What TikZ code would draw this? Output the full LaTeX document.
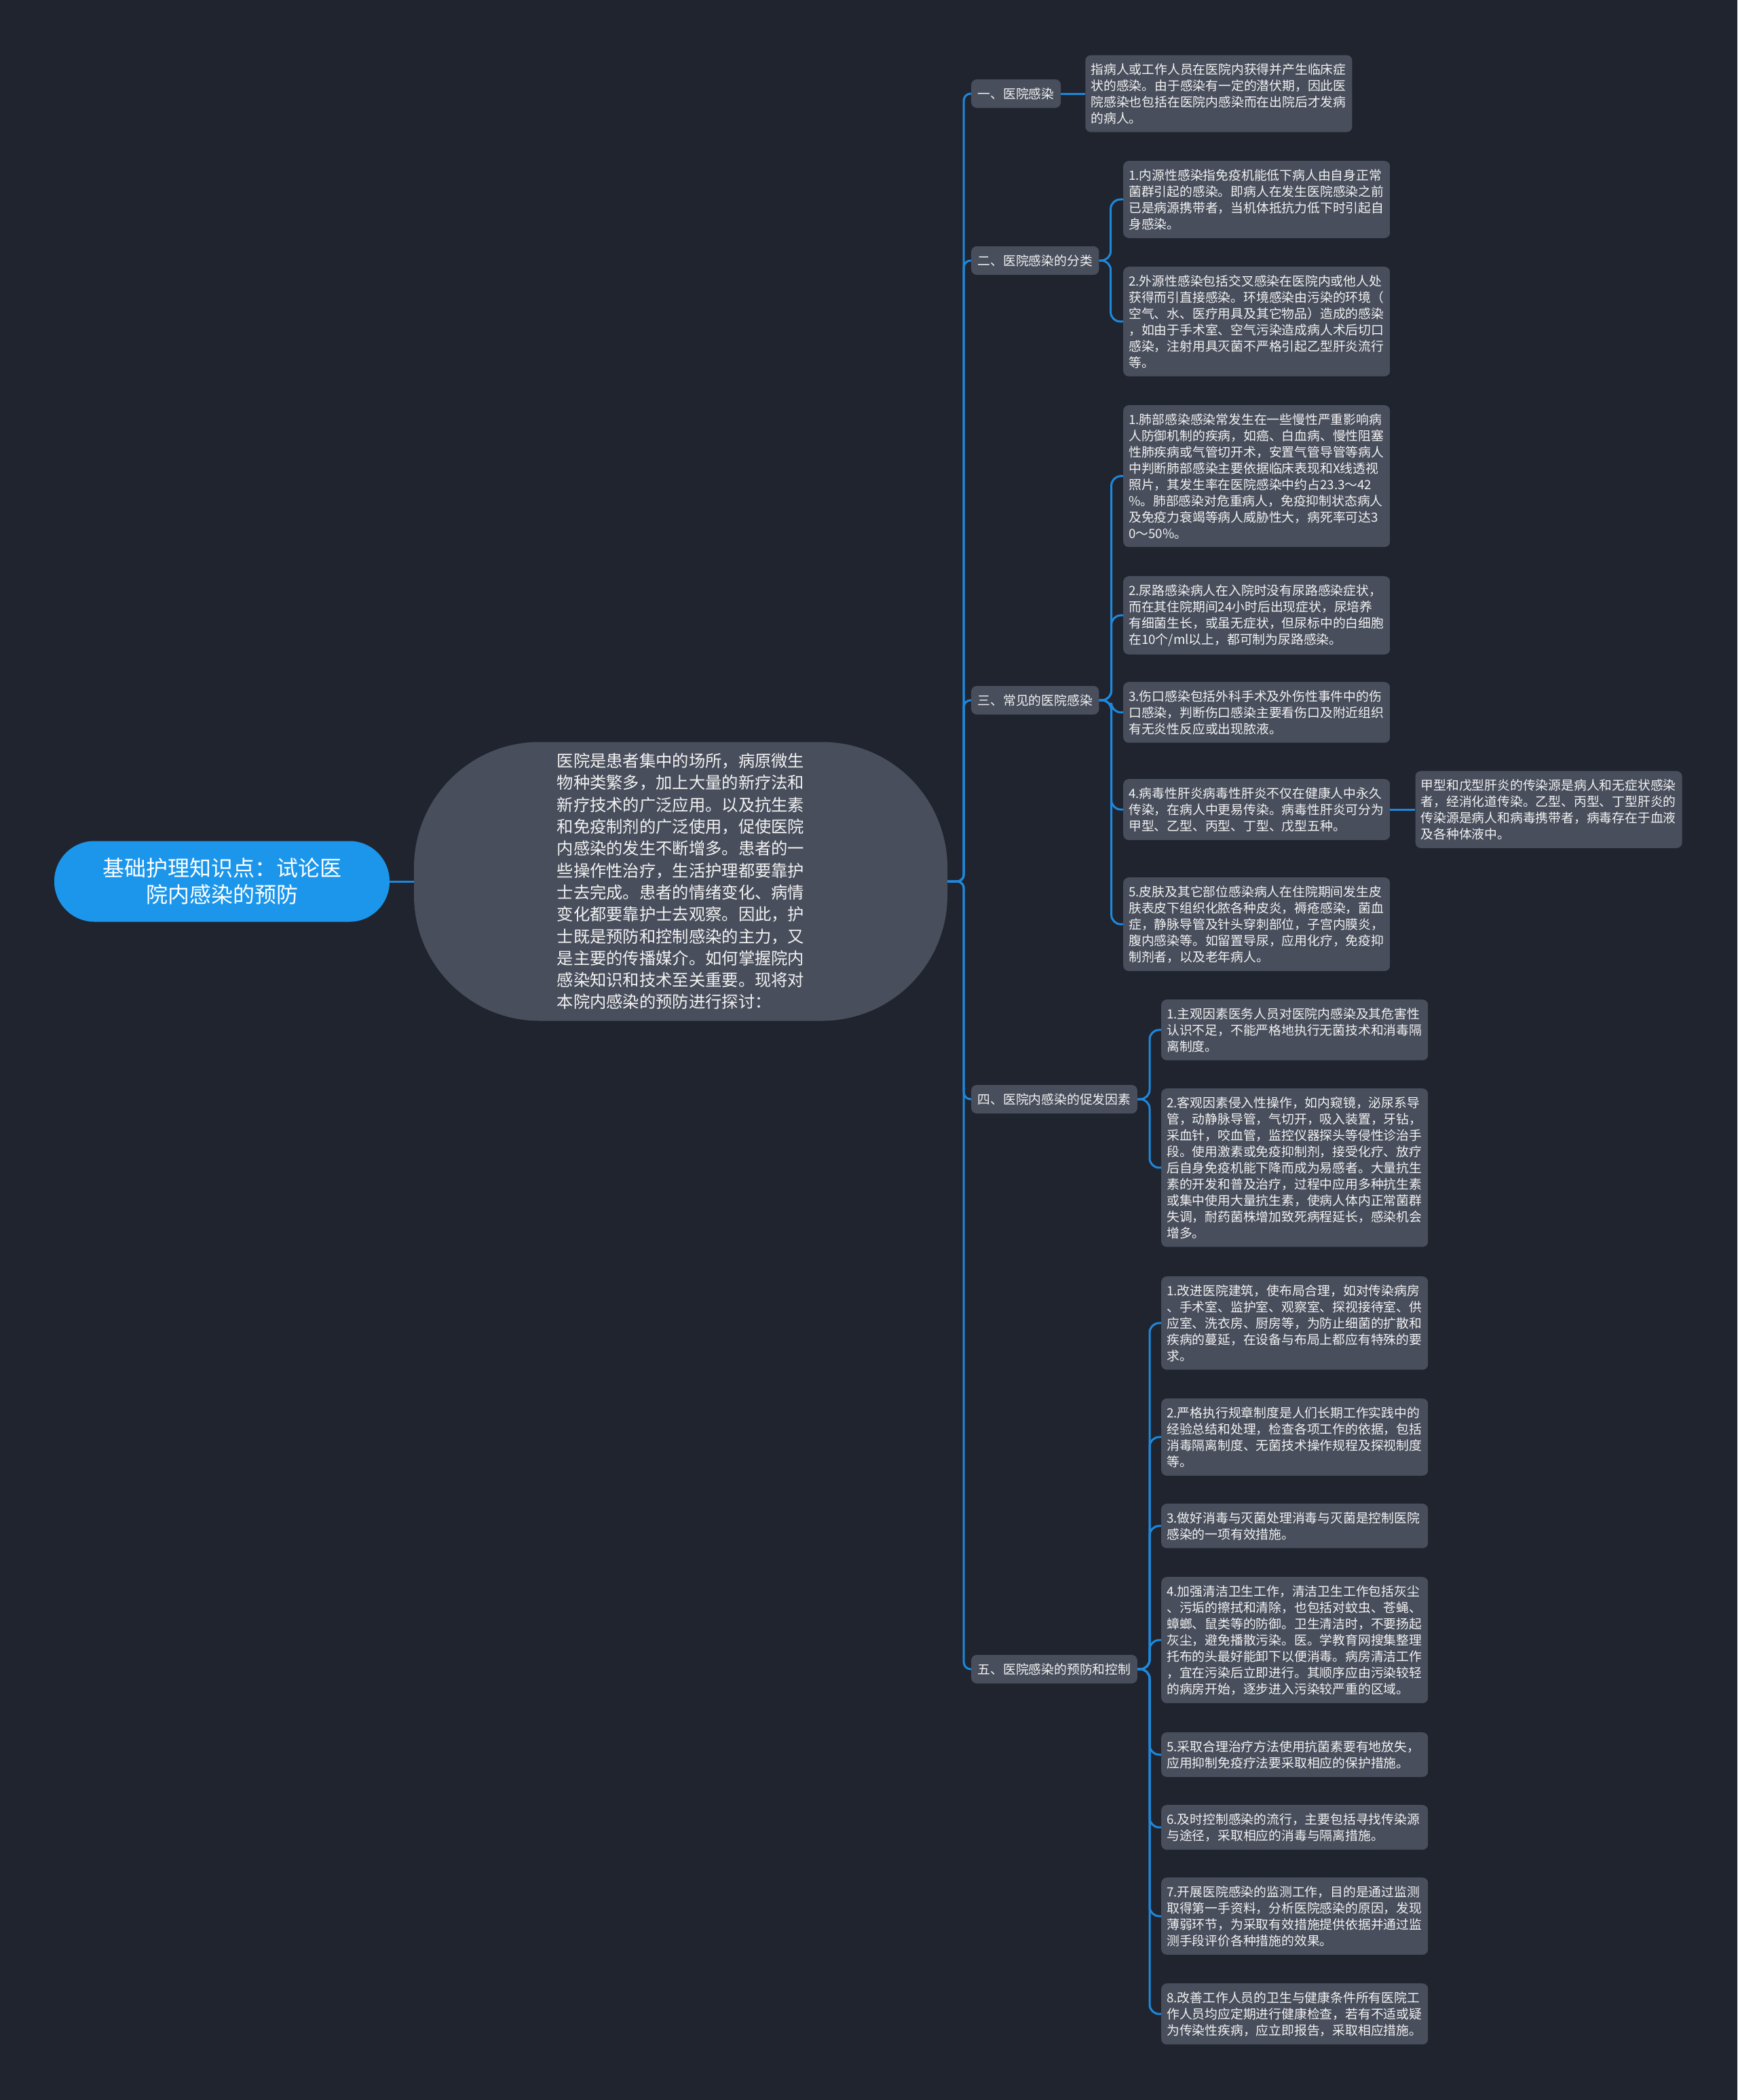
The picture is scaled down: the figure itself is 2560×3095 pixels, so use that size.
\documentclass[tikz,border=0pt]{standalone}
\usepackage{fontspec}
\setmainfont{Noto Sans CJK SC}
\usetikzlibrary{positioning}
\definecolor{bgnavy}{HTML}{20242F}
\definecolor{boxgray}{HTML}{484E5C}
\definecolor{rootblue}{HTML}{1C96EB}
\definecolor{linkblue}{HTML}{1E88DC}
\definecolor{textwhite}{HTML}{F2F2F2}

\begin{document}
\begin{tikzpicture}[
  x=1pt, y=-1pt,
  node distance=36pt,
  rootnode/.style={fill=rootblue, text=white, rounded corners=59pt, minimum width=494pt, minimum height=119pt, align=center, font=\fontsize{32pt}{39pt}\selectfont},
  introbox/.style={fill=boxgray, text=textwhite, rounded corners=185pt, minimum width=786pt, minimum height=411pt, align=left, font=\fontsize{24.3pt}{32.3pt}\selectfont},
  catnode/.style={fill=boxgray, text=textwhite, rounded corners=8pt, anchor=west, inner xsep=9.5pt, minimum height=42pt, font=\fontsize{18.8pt}{24pt}\selectfont},
  infobox/.style={fill=boxgray, text=textwhite, rounded corners=8pt, anchor=north west, text width=377pt, inner xsep=8pt, inner ysep=12pt, align=left, font=\fontsize{18.8pt}{24pt}\selectfont},
  link/.style={draw=linkblue, line width=3pt, rounded corners=14pt}
]
\path[use as bounding box, fill=bgnavy] (0,0) rectangle (2560,3095);

\node[rootnode] (root) at (327,1299) {基础护理知识点：试论医\\院内感染的预防};
\node[introbox] (intro) at (1003,1299) {医院是患者集中的场所，病原微生\\物种类繁多，加上大量的新疗法和\\新疗技术的广泛应用。以及抗生素\\和免疫制剂的广泛使用，促使医院\\内感染的发生不断增多。患者的一\\些操作性治疗，生活护理都要靠护\\士去完成。患者的情绪变化、病情\\变化都要靠护士去观察。因此，护\\士既是预防和控制感染的主力，又\\是主要的传播媒介。如何掌握院内\\感染知识和技术至关重要。现将对\\本院内感染的预防进行探讨：};

\node[catnode] (define) at (1431,138) {一、医院感染};
\node[catnode] (classify) at (1431,384) {二、医院感染的分类};
\node[catnode] (common) at (1431,1032) {三、常见的医院感染};
\node[catnode] (factors) at (1431,1620) {四、医院内感染的促发因素};
\node[catnode] (prevent) at (1431,2460) {五、医院感染的预防和控制};

\node[infobox, anchor=west, right=36pt of define] (defdetail) {指病人或工作人员在医院内获得并产生临床症\\状的感染。由于感染有一定的潜伏期，因此医\\院感染也包括在医院内感染而在出院后才发病\\的病人。};

\node[infobox] (classify1) at (1655,237) {1.内源性感染指免疫机能低下病人由自身正常\\菌群引起的感染。即病人在发生医院感染之前\\已是病源携带者，当机体抵抗力低下时引起自\\身感染。};
\node[infobox] (classify2) at (1655,393) {2.外源性感染包括交叉感染在医院内或他人处\\获得而引直接感染。环境感染由污染的环境（\\空气、水、医疗用具及其它物品）造成的感染\\，如由于手术室、空气污染造成病人术后切口\\感染，注射用具灭菌不严格引起乙型肝炎流行\\等。};

\node[infobox] (common1) at (1655,597) {1.肺部感染感染常发生在一些慢性严重影响病\\人防御机制的疾病，如癌、白血病、慢性阻塞\\性肺疾病或气管切开术，安置气管导管等病人\\中判断肺部感染主要依据临床表现和X线透视\\照片，其发生率在医院感染中约占23.3～42\\\%。肺部感染对危重病人，免疫抑制状态病人\\及免疫力衰竭等病人威胁性大，病死率可达3\\0～50\%。};
\node[infobox] (common2) at (1655,849) {2.尿路感染病人在入院时没有尿路感染症状，\\而在其住院期间24小时后出现症状，尿培养\\有细菌生长，或虽无症状，但尿标中的白细胞\\在10个/ml以上，都可制为尿路感染。};
\node[infobox] (common3) at (1655,1005) {3.伤口感染包括外科手术及外伤性事件中的伤\\口感染，判断伤口感染主要看伤口及附近组织\\有无炎性反应或出现脓液。};
\node[infobox] (common4) at (1655,1148) {4.病毒性肝炎病毒性肝炎不仅在健康人中永久\\传染，在病人中更易传染。病毒性肝炎可分为\\甲型、乙型、丙型、丁型、戊型五种。};
\node[infobox] (common5) at (1655,1293) {5.皮肤及其它部位感染病人在住院期间发生皮\\肤表皮下组织化脓各种皮炎，褥疮感染，菌血\\症，静脉导管及针头穿刺部位，子宫内膜炎，\\腹内感染等。如留置导尿，应用化疗，免疫抑\\制剂者，以及老年病人。};
\node[infobox, anchor=west, right=37pt of common4] (hepat) {甲型和戊型肝炎的传染源是病人和无症状感染\\者，经消化道传染。乙型、丙型、丁型肝炎的\\传染源是病人和病毒携带者，病毒存在于血液\\及各种体液中。};

\node[infobox] (factor1) at (1711,1473) {1.主观因素医务人员对医院内感染及其危害性\\认识不足，不能严格地执行无菌技术和消毒隔\\离制度。};
\node[infobox] (factor2) at (1711,1604) {2.客观因素侵入性操作，如内窥镜，泌尿系导\\管，动静脉导管，气切开，吸入装置，牙钻，\\采血针，咬血管，监控仪器探头等侵性诊治手\\段。使用激素或免疫抑制剂，接受化疗、放疗\\后自身免疫机能下降而成为易感者。大量抗生\\素的开发和普及治疗，过程中应用多种抗生素\\或集中使用大量抗生素，使病人体内正常菌群\\失调，耐药菌株增加致死病程延长，感染机会\\增多。};

\node[infobox] (prevent1) at (1711,1881) {1.改进医院建筑，使布局合理，如对传染病房\\、手术室、监护室、观察室、探视接待室、供\\应室、洗衣房、厨房等，为防止细菌的扩散和\\疾病的蔓延，在设备与布局上都应有特殊的要\\求。};
\node[infobox] (prevent2) at (1711,2061) {2.严格执行规章制度是人们长期工作实践中的\\经验总结和处理，检查各项工作的依据，包括\\消毒隔离制度、无菌技术操作规程及探视制度\\等。};
\node[infobox] (prevent3) at (1711,2216) {3.做好消毒与灭菌处理消毒与灭菌是控制医院\\感染的一项有效措施。};
\node[infobox] (prevent4) at (1711,2324) {4.加强清洁卫生工作，清洁卫生工作包括灰尘\\、污垢的擦拭和清除，也包括对蚊虫、苍蝇、\\蟑螂、鼠类等的防御。卫生清洁时，不要扬起\\灰尘，避免播散污染。医。学教育网搜集整理\\托布的头最好能卸下以便消毒。病房清洁工作\\，宜在污染后立即进行。其顺序应由污染较轻\\的病房开始，逐步进入污染较严重的区域。};
\node[infobox] (prevent5) at (1711,2553) {5.采取合理治疗方法使用抗菌素要有地放失，\\应用抑制免疫疗法要采取相应的保护措施。};
\node[infobox] (prevent6) at (1711,2660) {6.及时控制感染的流行，主要包括寻找传染源\\与途径，采取相应的消毒与隔离措施。};
\node[infobox] (prevent7) at (1711,2767) {7.开展医院感染的监测工作，目的是通过监测\\取得第一手资料，分析医院感染的原因，发现\\薄弱环节，为采取有效措施提供依据并通过监\\测手段评价各种措施的效果。};
\node[infobox] (prevent8) at (1711,2923) {8.改善工作人员的卫生与健康条件所有医院工\\作人员均应定期进行健康检查，若有不适或疑\\为传染性疾病，应立即报告，采取相应措施。};

\draw[link] (root) -- (intro);
\foreach \c in {define,classify,common,factors,prevent}
  \draw[link, rounded corners=10pt] (intro.east) -- ++(24,0) |- (\c.west);
\draw[link] (define) -- (defdetail);
\foreach \i in {1,2}
  \draw[link] (classify.east) -- ++(17,0) |- (classify\i.west);
\foreach \i in {1,...,5}
  \draw[link] (common.east) -- ++(18,0) |- (common\i.west);
\draw[link] (common4) -- (hepat);
\foreach \i in {1,2}
  \draw[link] (factors.east) -- ++(18,0) |- (factor\i.west);
\foreach \i in {1,...,8}
  \draw[link] (prevent.east) -- ++(18,0) |- (prevent\i.west);
\end{tikzpicture}
\end{document}
